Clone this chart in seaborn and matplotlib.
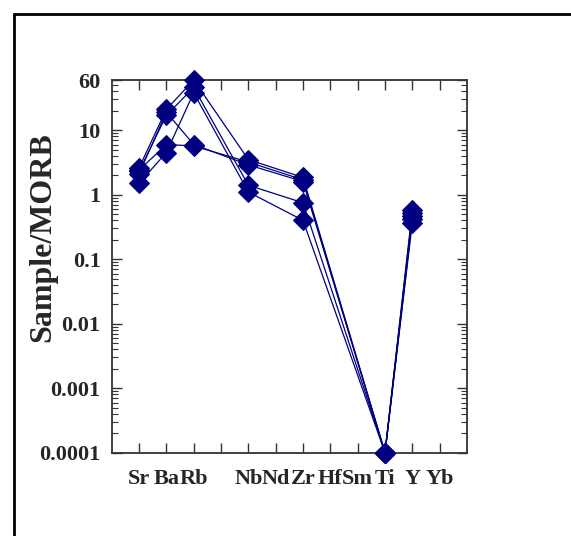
import numpy as np
import pandas as pd
import matplotlib
matplotlib.use("Agg")
import matplotlib.pyplot as plt
from matplotlib.lines import Line2D
from matplotlib.ticker import LogLocator, FixedLocator, NullFormatter
import seaborn as sns

# ---- data ----
tick_labels = ['Sr', 'Ba', 'Rb', '', 'Nb', 'Nd', 'Zr', 'Hf', 'Sm', 'Ti', 'Y', 'Yb']
measured = ['Sr', 'Ba', 'Rb', 'Nb', 'Zr', 'Ti', 'Y']
sample1 = [2.6, 21.0, 60.0, 3.5, 1.85, 0.0001, 0.58]
sample2 = [2.3, 17.0, 46.0, 1.4, 0.75, 0.0001, 0.46]
sample3 = [1.5, 4.5, 38.0, 1.1, 0.40, 0.0001, 0.37]
sample4 = [2.1, 19.0, 6.0, 2.9, 1.6, 0.0001, 0.42]
sample5 = [2.4, 6.0, 5.7, 3.2, 1.7, 0.0001, 0.52]
samples = {'S1': sample1, 'S2': sample2, 'S3': sample3, 'S4': sample4, 'S5': sample5}
y_ticks = [0.0001, 0.001, 0.01, 0.1, 1, 10, 60]
y_tick_labels = ['0.0001', '0.001', '0.01', '0.1', '1', '10', '60']

rows = []
for name, vals in samples.items():
    for el, v in zip(measured, vals):
        rows.append({'sample': name, 'pos': tick_labels.index(el) + 1, 'value': v})
df = pd.DataFrame(rows)

# ---- style ----
sns.set_style('ticks')
plt.rcParams['font.family'] = ['Liberation Serif', 'DejaVu Serif']
plt.rcParams['font.weight'] = 'bold'

W, H = 571, 536
fig = plt.figure(figsize=(W / 100, H / 100), dpi=100)
ax = fig.add_axes([111.7 / W, 1 - 452.7 / H, (467 - 111.7) / W, (452.7 - 80) / H])

navy = '#000080'
sns.lineplot(data=df, x='pos', y='value', units='sample', estimator=None,
             color=navy, linewidth=0.9, marker='D', markersize=10,
             markeredgecolor=navy, markerfacecolor=navy, clip_on=False,
             ax=ax, legend=False, zorder=3)

ax.set_yscale('log')
ax.set_ylim(0.0001, 60)
ax.set_xlim(0, 13)

ax.xaxis.set_major_locator(FixedLocator(range(1, len(tick_labels) + 1)))
ax.set_xticklabels(tick_labels, fontsize=16, fontweight='bold')
ax.yaxis.set_major_locator(FixedLocator(y_ticks))
ax.set_yticklabels(y_tick_labels, fontsize=16, fontweight='bold')
ax.yaxis.set_minor_locator(LogLocator(base=10, subs=np.arange(2, 10), numticks=20))
ax.yaxis.set_minor_formatter(NullFormatter())

ax.tick_params(axis='both', which='major', direction='in', length=7, width=1,
               top=True, right=True, color='#333333')
ax.tick_params(axis='y', which='minor', direction='in', length=4, width=0.8,
               left=True, right=True, color='#333333')
ax.tick_params(axis='y', which='major', pad=8)
ax.tick_params(axis='x', which='major', pad=12)

for sp in ax.spines.values():
    sp.set_color('#333333')
    sp.set_linewidth(1.3)

ax.set_xlabel('')
ax.set_ylabel('Sample/MORB', fontsize=23, fontweight='bold')
ax.yaxis.set_label_coords((57 - 111.7) / (467 - 111.7), (452.7 - 237) / (452.7 - 80))

# outer frame (left and top edges visible)
x0 = 14 / W
y0 = 1 - 14 / H
fig.add_artist(Line2D([x0, x0], [0, y0], color='black', linewidth=2, transform=fig.transFigure))
fig.add_artist(Line2D([x0, 1], [y0, y0], color='black', linewidth=2, transform=fig.transFigure))

fig.savefig('out.png', dpi=100, facecolor='white')
